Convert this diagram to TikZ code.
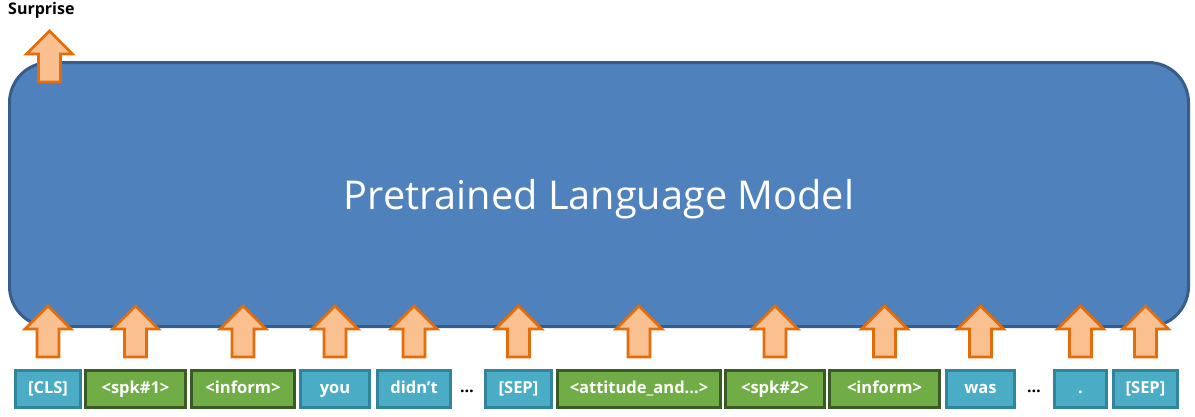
\documentclass[tikz,border=0pt]{standalone}
\usepackage{fontspec}
\setmainfont{Open Sans}
\usetikzlibrary{calc}

\definecolor{modelfill}{HTML}{4F81BD}
\definecolor{modelline}{HTML}{385D8A}
\definecolor{arrowfill}{HTML}{FAC090}
\definecolor{arrowline}{HTML}{E46C0A}
\definecolor{tokblue}{HTML}{4BACC6}
\definecolor{tokblueline}{HTML}{31849B}
\definecolor{tokgreen}{HTML}{70AD47}
\definecolor{tokgreenline}{HTML}{3A5A26}

\tikzset{
  model/.style={draw=modelline, fill=modelfill, line width=3pt,
    rounded corners=40pt, text=white, inner sep=0pt,
    text height=30pt, text depth=0pt,
    font=\fontsize{39.7}{46}\selectfont},
  token/.style={line width=3pt, minimum height=37pt, inner sep=0pt,
    text height=12pt, text depth=3.5pt,
    text=white, font=\fontsize{16.5}{19}\selectfont\bfseries},
  wordtok/.style={token, draw=tokblueline, fill=tokblue},
  tagtok/.style={token, draw=tokgreenline, fill=tokgreen},
  gap/.style={font=\fontsize{16}{19}\selectfont\bfseries, inner sep=0pt},
  blockarrow/.pic={
    \draw[draw=arrowline, fill=arrowfill, line width=2.6pt, line join=miter]
      (-11,0) -- (-11,-28) -- (-23,-28) -- (0,-51) -- (23,-28)
      -- (11,-28) -- (11,0) -- cycle;
  }
}

\begin{document}
\begin{tikzpicture}[x=1pt, y=-1pt]
  \useasboundingbox (0,0) rectangle (1195,416);

  % the language model
  \node[model, minimum width=1179pt, minimum height=264pt]
    (plm) at (599,194.5) {Pretrained Language Model};

  % output label and its arrow
  \node[font=\fontsize{16}{18}\selectfont\bfseries, anchor=west, inner sep=0pt]
    (surprise) at (8,10) {Surprise};
  \pic at (49.5,82) {blockarrow};

  % input tokens
  \node[wordtok, minimum width=65pt]  (cls)   at (48,389)    {[CLS]};
  \node[tagtok,  minimum width=100pt] (spka)  at (135.5,389) {<spk\#1>};
  \node[tagtok,  minimum width=103pt] (infa)  at (243,389)   {<inform>};
  \node[wordtok, minimum width=69pt]  (you)   at (335,389)   {you};
  \node[wordtok, minimum width=73pt]  (didnt) at (414,389)   {didn’t};
  \node[gap] (dotsa) at (467,391) {…};
  \node[wordtok, minimum width=66pt]  (sepa)  at (518.5,389) {[SEP]};
  \node[tagtok,  minimum width=163pt] (att)   at (639,389)   {<attitude\_and...>};
  \node[tagtok,  minimum width=99pt]  (spkb)  at (775,389)   {<spk\#2>};
  \node[tagtok,  minimum width=110pt] (infb)  at (884.5,389) {<inform>};
  \node[wordtok, minimum width=68pt]  (was)   at (980.5,389) {was};
  \node[gap] (dotsb) at (1034,391) {…};
  \node[wordtok, minimum width=52pt]  (dot)   at (1080.5,389) {.};
  \node[wordtok, minimum width=64pt]  (sepb)  at (1145.5,389) {[SEP]};

  % arrows from each token into the model
  \foreach \t in {cls,spka,infa,you,didnt,sepa,att,spkb,infb,was,dot,sepb}
    \pic at ($(\t.north)+(0,-12)$) {blockarrow};
\end{tikzpicture}
\end{document}
